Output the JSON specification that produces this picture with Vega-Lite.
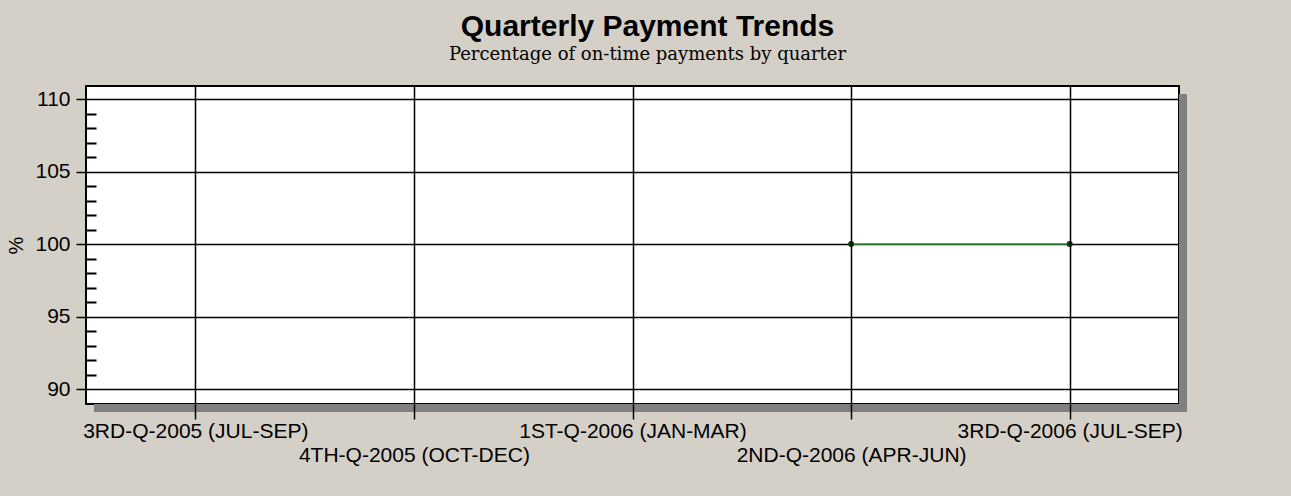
{
  "$schema": "https://vega.github.io/schema/vega-lite/v6.json",
  "width": 1093,
  "height": 318,
  "autosize": {"type": "none"},
  "padding": {"left": 86, "top": 86, "right": 112, "bottom": 92},
  "background": "#d4d0c8",
  "config": {
    "view": {"fill": "white", "stroke": "black", "strokeWidth": 2},
    "font": "Liberation Sans"
  },
  "title": {
    "text": "Quarterly Payment Trends",
    "subtitle": "Percentage of on-time payments by quarter",
    "font": "Liberation Sans",
    "fontSize": 30,
    "fontWeight": "bold",
    "color": "black",
    "subtitleFont": "DejaVu Serif",
    "subtitleFontSize": 18,
    "subtitleColor": "black",
    "subtitlePadding": 4,
    "anchor": "middle",
    "dx": 15,
    "offset": 22
  },
  "resolve": {"axis": {"y": "independent"}},
  "layer": [
    {
      "data": {"values": [{"part": "shadow-bottom"}]},
      "mark": {"type": "rect", "fill": "#808080", "xOffset": 8, "x2Offset": 8, "y2Offset": 8},
      "encoding": {
        "x": {"value": 0},
        "x2": {"value": "width"},
        "y": {
          "datum": 88.97,
          "type": "quantitative",
          "scale": {"domain": [88.97, 110.9], "nice": false, "zero": false},
          "axis": {
            "orient": "left",
            "values": [91, 92, 93, 94, 96, 97, 98, 99, 101, 102, 103, 104, 106, 107, 108, 109],
            "labels": false,
            "grid": false,
            "domain": false,
            "title": null,
            "tickSize": -10,
            "tickColor": "black",
            "tickWidth": 2
          }
        },
        "y2": {"datum": 88.97}
      }
    },
    {
      "data": {"values": [{"part": "shadow-right"}]},
      "mark": {"type": "rect", "fill": "#808080", "x2Offset": 8, "yOffset": 8, "y2Offset": 8},
      "encoding": {
        "x": {"value": "width"},
        "x2": {"value": "width"},
        "y": {"datum": 110.9, "type": "quantitative", "axis": null},
        "y2": {"datum": 88.97}
      }
    },
    {
      "data": {
        "values": [
          {"quarter": "3RD-Q-2005 (JUL-SEP)", "pct": null},
          {"quarter": "4TH-Q-2005 (OCT-DEC)", "pct": null},
          {"quarter": "1ST-Q-2006 (JAN-MAR)", "pct": null},
          {"quarter": "2ND-Q-2006 (APR-JUN)", "pct": 100},
          {"quarter": "3RD-Q-2006 (JUL-SEP)", "pct": 100}
        ]
      },
      "mark": {
        "type": "line",
        "color": "#3a9a3a",
        "strokeWidth": 1.5,
        "point": {"filled": true, "color": "#103c10", "size": 36}
      },
      "encoding": {
        "x": {
          "field": "quarter",
          "type": "ordinal",
          "sort": null,
          "scale": {
            "type": "point",
            "padding": 0.5,
            "domain": ["3RD-Q-2005 (JUL-SEP)", "4TH-Q-2005 (OCT-DEC)", "1ST-Q-2006 (JAN-MAR)", "2ND-Q-2006 (APR-JUN)", "3RD-Q-2006 (JUL-SEP)"]
          },
          "axis": {
            "title": null,
            "zindex": 1,
            "grid": true,
            "gridColor": "black",
            "gridWidth": 1.5,
            "gridOpacity": 1,
            "domain": false,
            "tickColor": "black",
            "tickWidth": 1.5,
            "tickSize": 15,
            "labelAngle": 0,
            "labelOverlap": false,
            "labelBound": false,
            "labelLimit": 500,
            "labelFont": "Liberation Sans",
            "labelFontSize": 21,
            "labelColor": "black",
            "labelBaseline": "top",
            "labelPadding": {
              "condition": {
                "test": "datum.value === '4TH-Q-2005 (OCT-DEC)' || datum.value === '2ND-Q-2006 (APR-JUN)'",
                "value": 25
              },
              "value": 1
            }
          }
        },
        "y": {
          "field": "pct",
          "type": "quantitative",
          "axis": {
            "orient": "left",
            "values": [90, 95, 100, 105, 110],
            "title": "%",
            "titleFont": "Liberation Sans",
            "titleFontSize": 20,
            "titleFontWeight": "normal",
            "titleColor": "black",
            "titlePadding": 8,
            "grid": true,
            "gridColor": "black",
            "gridWidth": 1.5,
            "gridOpacity": 1,
            "domain": false,
            "tickColor": "black",
            "tickWidth": 1.5,
            "tickSize": 10,
            "labelFont": "Liberation Sans",
            "labelFontSize": 21,
            "labelColor": "black",
            "labelPadding": 6
          }
        }
      }
    }
  ]
}
